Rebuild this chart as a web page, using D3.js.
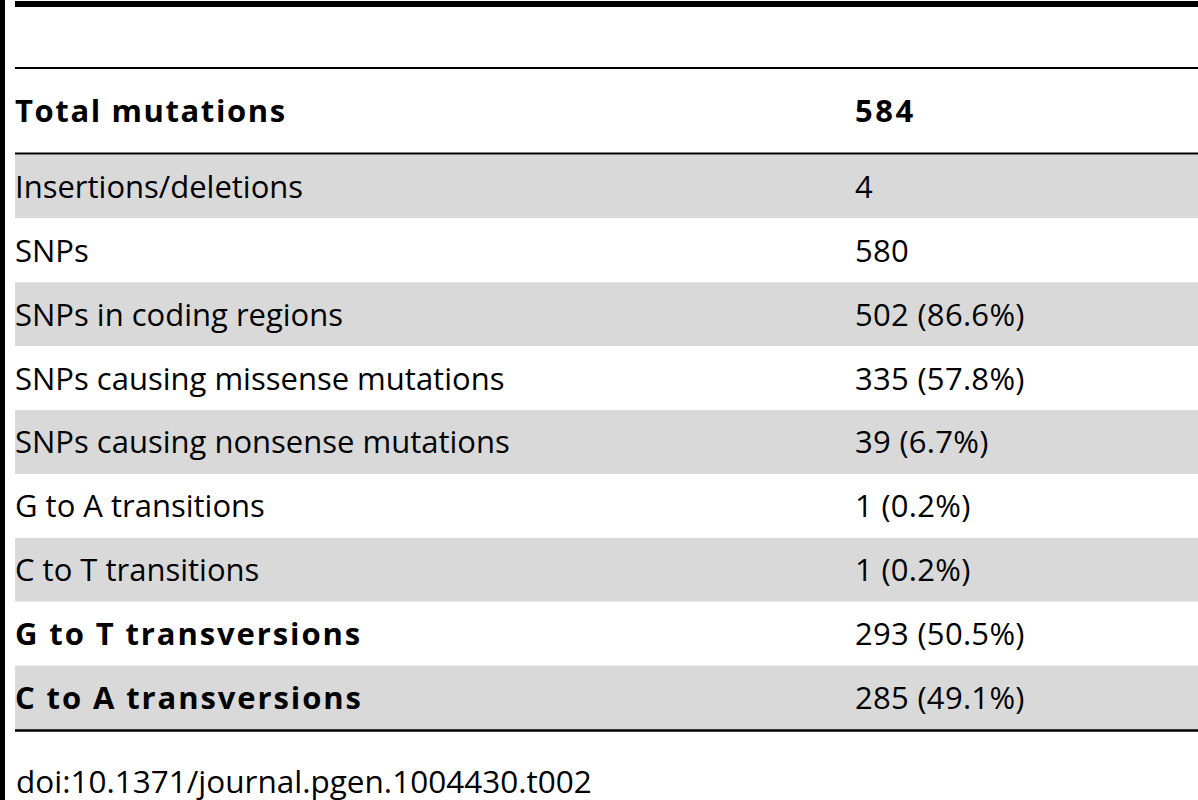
<!DOCTYPE html>
<html>
<head>
<meta charset="utf-8">
<script src="https://cdn.jsdelivr.net/npm/d3@7"></script>
<style>
  body { margin: 0; background: #fff; }
  text { font-family: "Open Sans", "Noto Sans", sans-serif; fill: #000; }
</style>
</head>
<body>
<div id="table"></div>
<script>
// Table contents
var headLabel = "Total mutations";
var headValue = "584";
var rowLabels = [
  "Insertions/deletions",
  "SNPs",
  "SNPs in coding regions",
  "SNPs causing missense mutations",
  "SNPs causing nonsense mutations",
  "G to A transitions",
  "C to T transitions",
  "G to T transversions",
  "C to A transversions"
];
var rowCounts = [4, 580, 502, 335, 39, 1, 1, 293, 285];
var rowPercents = [null, null, 86.6, 57.8, 6.7, 0.2, 0.2, 50.5, 49.1];
var boldRows = ["G to T transversions", "C to A transversions"];
var footnote = "doi:10.1371/journal.pgen.1004430.t002";

var svgWidth = 1198;
var svgHeight = 800;

var svg = d3.select("#table")
  .append("svg")
  .attr("width", svgWidth)
  .attr("height", svgHeight);

var left = 15;
var colX = d3.scalePoint()
  .domain(["label", "value"])
  .range([left, 855]);

// body rows
var y = d3.scaleBand()
  .domain(rowLabels)
  .range([154.5, 729.5])
  .padding(0);

var fontSize = 31;
var capHalf = 11.5;
var boldSpacing = 1.9;

var rows = svg.append("g")
  .selectAll("g")
  .data(rowLabels)
  .enter()
  .append("g")
  .attr("transform", d => `translate(0, ${y(d)})`);

rows.append("rect")
  .attr("x", left)
  .attr("width", svgWidth - left)
  .attr("height", y.bandwidth())
  .attr("fill", (d, i) => i % 2 === 0 ? "#d9d9d9" : "#fff");

rows.append("text")
  .attr("x", colX("label"))
  .attr("y", y.bandwidth() / 2 + capHalf)
  .attr("font-size", fontSize)
  .attr("font-weight", d => boldRows.includes(d) ? "bold" : "normal")
  .attr("letter-spacing", d => boldRows.includes(d) ? boldSpacing : 0)
  .text(d => d);

rows.append("text")
  .attr("x", colX("value"))
  .attr("y", y.bandwidth() / 2 + capHalf)
  .attr("font-size", fontSize)
  .attr("letter-spacing", 0.3)
  .text((d, i) => rowPercents[i] === null ? rowCounts[i]
    : `${rowCounts[i]} (${rowPercents[i].toFixed(1)}%)`);

// header row
svg.append("text")
  .attr("x", colX("label"))
  .attr("y", 122)
  .attr("font-size", fontSize)
  .attr("font-weight", "bold")
  .attr("letter-spacing", 1.6)
  .text(headLabel);

svg.append("text")
  .attr("x", colX("value"))
  .attr("y", 122)
  .attr("font-size", fontSize)
  .attr("font-weight", "bold")
  .attr("letter-spacing", 2.5)
  .text(headValue);

// rules
var rules = [
  {y: 4, w: 6},
  {y: 68, w: 2},
  {y: 153.5, w: 2},
  {y: 730.5, w: 2.5}
];
svg.append("g")
  .selectAll("line")
  .data(rules)
  .enter()
  .append("line")
  .attr("x1", left)
  .attr("x2", svgWidth)
  .attr("y1", d => d.y)
  .attr("y2", d => d.y)
  .attr("stroke", "#000")
  .attr("stroke-width", d => d.w);

// left bar
svg.append("rect")
  .attr("x", 0)
  .attr("y", 0)
  .attr("width", 5)
  .attr("height", svgHeight)
  .attr("fill", "#000");

svg.append("text")
  .attr("x", 16)
  .attr("y", 793)
  .attr("font-size", 31.5)
  .text(footnote);
</script>
</body>
</html>
